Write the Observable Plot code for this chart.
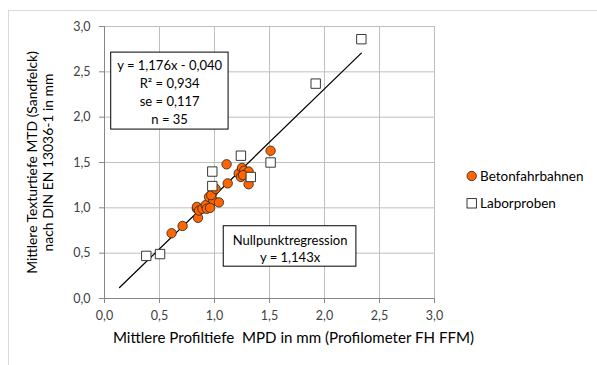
<!DOCTYPE html>
<html><head><meta charset="utf-8">
<script src="https://cdn.jsdelivr.net/npm/d3@7"></script>
<script src="https://cdn.jsdelivr.net/npm/@observablehq/plot@0.6"></script>
<style>
body{margin:0;background:#fff;}
#chart{position:relative;width:597px;height:365px;overflow:hidden;background:#fff;}
#frame{position:absolute;left:8px;top:10px;right:-2px;bottom:-2px;border-left:1px solid #d9d9d9;border-top:1px solid #d9d9d9;pointer-events:none;}
#chart svg{position:absolute;left:0;top:0;}
#chart svg text{white-space:pre;}
</style></head><body><div id="chart"><div id="frame"></div></div>
<script>
// Betonfahrbahnen (orange circles)
const betonX = [0.61,0.71,0.84,0.85,0.84,0.86,0.89,0.92,0.93,0.95,0.98,0.99,1.04,0.97,1.01,1.12,1.11,1.22,1.25,1.24,1.27,1.31,1.31,1.51,0.96,1.26];
const betonY = [0.72,0.80,0.99,0.89,1.01,0.97,0.99,1.03,0.99,1.12,1.16,1.08,1.06,1.14,1.21,1.27,1.48,1.38,1.44,1.34,1.41,1.40,1.26,1.63,1.00,1.36];
// Laborproben (white squares)
const laborX = [0.38,0.505,0.98,0.98,1.24,1.33,1.51,1.92,2.335];
const laborY = [0.47,0.49,1.40,1.24,1.575,1.34,1.50,2.37,2.86];
const seriesNames = ["Betonfahrbahnen","Laborproben"];
const xTicks = [0,0.5,1,1.5,2,2.5,3];
const yTicks = [0,0.5,1,1.5,2,2.5,3];
const fitSlope = 1.176, fitIntercept = -0.040;
const fitXRange = [0.137, 2.335];
const statLines = ["y = 1,176x - 0,040","R² = 0,934","se = 0,117","n = 35"];
const originLines = ["Nullpunktregression","y = 1,143x"];
const xTitle = "Mittlere Profiltiefe  MPD in mm (Profilometer FH FFM)";
const yTitleLines = ["Mittlere Texturtiefe MTD (Sandfelck)","nach DIN EN 13036-1 in mm"];

const beton = betonX.map((x,i)=>({x, y: betonY[i]}));
const labor = laborX.map((x,i)=>({x, y: laborY[i]}));
const fit = fitXRange.map(x=>({x, y: fitSlope*x + fitIntercept}));
const fmt = d => d.toFixed(1).replace(".", ",");
const FONT = "Lato, 'Open Sans', sans-serif";
const ORANGE = "#ff6600";

const plot = Plot.plot({
  width: 597, height: 365,
  marginLeft: 104, marginRight: 163, marginTop: 26, marginBottom: 67,
  style: {fontFamily: FONT, fontSize: "12px", background: "transparent", color: "#404040"},
  x: {domain: [0,3]},
  y: {domain: [0,3]},
  marks: [
    Plot.gridX(xTicks, {stroke: "#bfbfbf", strokeOpacity: 1}),
    Plot.gridY(yTicks, {stroke: "#bfbfbf", strokeOpacity: 1}),
    Plot.ruleX([0], {stroke: "#868686"}),
    Plot.ruleY([0], {stroke: "#868686"}),
    Plot.axisX(xTicks, {tickSize: 5, tickPadding: 8, tickFormat: fmt, stroke: "#868686", fill: "#404040", fontSize: 12.5, label: null}),
    Plot.axisY(yTicks, {tickSize: 5, tickPadding: 9, tickFormat: fmt, stroke: "#868686", fill: "#404040", fontSize: 12.5, label: null}),
    Plot.line(fit, {x: "x", y: "y", stroke: "#000", strokeWidth: 1.25}),
    Plot.dot(beton, {x: "x", y: "y", r: 4.7, fill: ORANGE, stroke: "#222", strokeWidth: 0.8}),
    Plot.dot(labor, {x: "x", y: "y", symbol: "square", r: 5.3, fill: "#fff", stroke: "#222", strokeWidth: 0.9}),
    Plot.rect([{x1: 0.061, x2: 1.128, y1: 1.863, y2: 2.712}], {x1: "x1", x2: "x2", y1: "y1", y2: "y2", fill: "#fff", stroke: "#000", strokeWidth: 1}),
    Plot.text([statLines.join("\n")], {x: 0.592, y: 2.288, fontSize: 13, lineHeight: 1.4, fill: "#000", textAnchor: "middle"}),
    Plot.rect([{x1: 1.084, x2: 2.29, y1: 0.351, y2: 0.797}], {x1: "x1", x2: "x2", y1: "y1", y2: "y2", fill: "#fff", stroke: "#000", strokeWidth: 1}),
    Plot.text([originLines.join("\n")], {x: 1.687, y: 0.56, fontSize: 13, lineHeight: 1.32, fill: "#000", textAnchor: "middle"}),
    Plot.text([xTitle], {frameAnchor: "bottom", dy: 44, dx: 24, fontSize: 15.1, fill: "#000", textAnchor: "middle"}),
    Plot.text([yTitleLines.join("\n")], {frameAnchor: "left", rotate: -90, dx: -65, fontSize: 13.9, lineHeight: 1.17, fill: "#000", textAnchor: "middle", lineAnchor: "middle"})
  ]
});
document.getElementById("chart").appendChild(plot);

// legend
const svg = d3.select(plot);
const lg = svg.append("g").attr("font-family", FONT).attr("font-size", 13.5).attr("text-anchor", "start");
const legendItems = [
  {name: seriesNames[0], kind: "circle"},
  {name: seriesNames[1], kind: "square"}
];
legendItems.forEach((d, i) => {
  const cy = 176 + i * 27.3;
  if (d.kind === "circle") {
    lg.append("circle").attr("cx", 471.7).attr("cy", cy).attr("r", 4.7).attr("fill", ORANGE).attr("stroke", "#222").attr("stroke-width", 0.8);
  } else {
    lg.append("rect").attr("x", 467).attr("y", cy - 4.7).attr("width", 9.4).attr("height", 9.4).attr("fill", "#fff").attr("stroke", "#222").attr("stroke-width", 0.9);
  }
  lg.append("text").attr("x", 480).attr("y", cy).attr("dy", "0.35em").attr("fill", "#000").text(d.name);
});
</script>
</body></html>
